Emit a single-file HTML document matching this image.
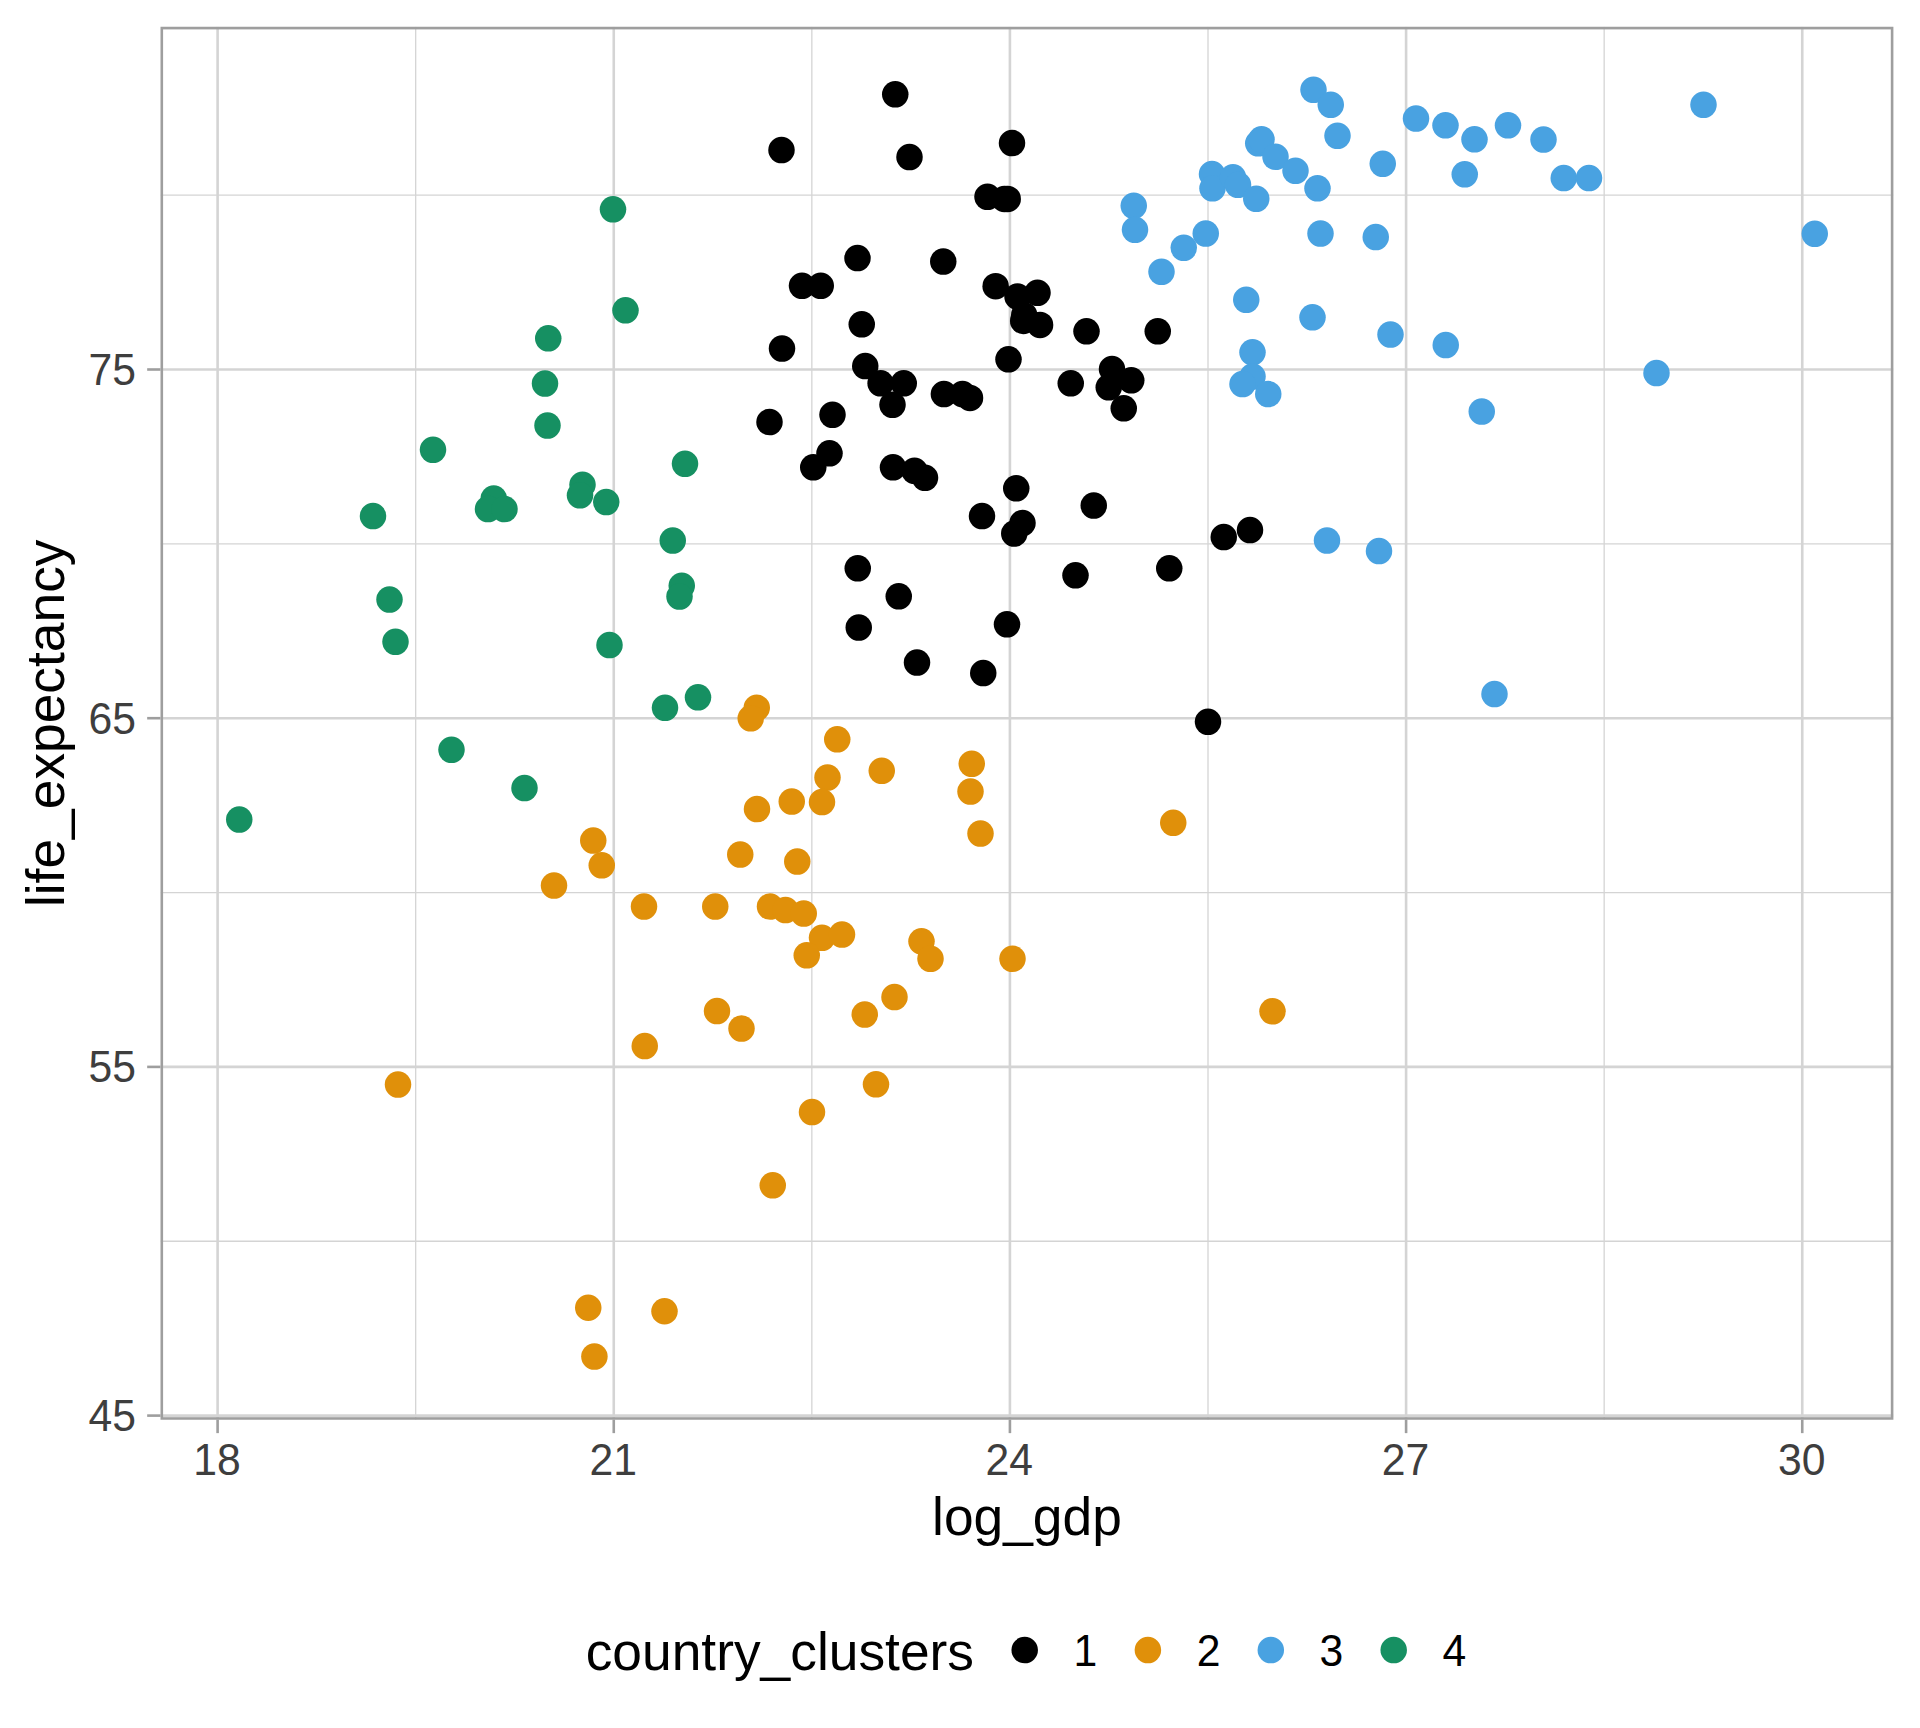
<!DOCTYPE html>
<html lang="en"><head><meta charset="utf-8"><title>life_expectancy vs log_gdp by country_clusters</title>
<style>html,body{margin:0;padding:0;background:#fff}body{width:1920px;height:1728px;overflow:hidden}svg{display:block}text{font-family:"Liberation Sans",Arial,Helvetica,sans-serif}.ax{font-size:42.67px;fill:#3E3E3E}.ti{font-size:53.33px;fill:#000}.lg{font-size:42.67px;fill:#000}</style></head><body>
<svg width="1920" height="1728" viewBox="0 0 1920 1728">
<rect width="1920" height="1728" fill="#fff"/>
<defs><clipPath id="pc"><rect x="160.5" y="26.8" width="1732.9" height="1393.0"/></clipPath></defs>
<g clip-path="url(#pc)">
<g stroke="#D4D4D4" stroke-width="1.3" fill="none">
<line x1="415.68" x2="415.68" y1="26.8" y2="1419.8"/>
<line x1="811.84" x2="811.84" y1="26.8" y2="1419.8"/>
<line x1="1208.00" x2="1208.00" y1="26.8" y2="1419.8"/>
<line x1="1604.17" x2="1604.17" y1="26.8" y2="1419.8"/>
<line x1="160.5" x2="1893.4" y1="1241.25" y2="1241.25"/>
<line x1="160.5" x2="1893.4" y1="892.55" y2="892.55"/>
<line x1="160.5" x2="1893.4" y1="543.85" y2="543.85"/>
<line x1="160.5" x2="1893.4" y1="195.15" y2="195.15"/>
</g>
<g stroke="#D4D4D4" stroke-width="2.6" fill="none">
<line x1="217.60" x2="217.60" y1="26.8" y2="1419.8"/>
<line x1="613.76" x2="613.76" y1="26.8" y2="1419.8"/>
<line x1="1009.92" x2="1009.92" y1="26.8" y2="1419.8"/>
<line x1="1406.09" x2="1406.09" y1="26.8" y2="1419.8"/>
<line x1="1802.25" x2="1802.25" y1="26.8" y2="1419.8"/>
<line x1="160.5" x2="1893.4" y1="1415.60" y2="1415.60"/>
<line x1="160.5" x2="1893.4" y1="1066.90" y2="1066.90"/>
<line x1="160.5" x2="1893.4" y1="718.20" y2="718.20"/>
<line x1="160.5" x2="1893.4" y1="369.50" y2="369.50"/>
</g>
<g>
<circle cx="613.00" cy="209.35" r="13.25" fill="#169062"/>
<circle cx="625.50" cy="310.35" r="13.25" fill="#169062"/>
<circle cx="548.25" cy="338.35" r="13.25" fill="#169062"/>
<circle cx="545.00" cy="383.60" r="13.25" fill="#169062"/>
<circle cx="547.50" cy="425.60" r="13.25" fill="#169062"/>
<circle cx="433.00" cy="449.85" r="13.25" fill="#169062"/>
<circle cx="895.25" cy="94.35" r="13.25" fill="#000000"/>
<circle cx="781.50" cy="150.10" r="13.25" fill="#000000"/>
<circle cx="909.50" cy="157.10" r="13.25" fill="#000000"/>
<circle cx="1012.00" cy="143.10" r="13.25" fill="#000000"/>
<circle cx="987.50" cy="196.85" r="13.25" fill="#000000"/>
<circle cx="1004.40" cy="198.95" r="13.25" fill="#000000"/>
<circle cx="1007.70" cy="198.95" r="13.25" fill="#000000"/>
<circle cx="857.50" cy="258.10" r="13.25" fill="#000000"/>
<circle cx="943.25" cy="261.60" r="13.25" fill="#000000"/>
<circle cx="802.00" cy="285.85" r="13.25" fill="#000000"/>
<circle cx="820.75" cy="285.85" r="13.25" fill="#000000"/>
<circle cx="995.65" cy="286.15" r="13.25" fill="#000000"/>
<circle cx="1017.50" cy="296.60" r="13.25" fill="#000000"/>
<circle cx="1037.50" cy="292.85" r="13.25" fill="#000000"/>
<circle cx="1024.20" cy="315.15" r="13.25" fill="#000000"/>
<circle cx="1023.20" cy="320.95" r="13.25" fill="#000000"/>
<circle cx="1040.05" cy="324.95" r="13.25" fill="#000000"/>
<circle cx="861.75" cy="324.35" r="13.25" fill="#000000"/>
<circle cx="1086.50" cy="331.35" r="13.25" fill="#000000"/>
<circle cx="782.00" cy="348.60" r="13.25" fill="#000000"/>
<circle cx="1008.50" cy="359.35" r="13.25" fill="#000000"/>
<circle cx="865.25" cy="366.10" r="13.25" fill="#000000"/>
<circle cx="880.60" cy="383.35" r="13.25" fill="#000000"/>
<circle cx="903.75" cy="383.35" r="13.25" fill="#000000"/>
<circle cx="892.50" cy="404.85" r="13.25" fill="#000000"/>
<circle cx="943.90" cy="394.10" r="13.25" fill="#000000"/>
<circle cx="962.50" cy="394.10" r="13.25" fill="#000000"/>
<circle cx="970.00" cy="397.95" r="13.25" fill="#000000"/>
<circle cx="1070.75" cy="383.35" r="13.25" fill="#000000"/>
<circle cx="1112.00" cy="369.10" r="13.25" fill="#000000"/>
<circle cx="1108.75" cy="387.35" r="13.25" fill="#000000"/>
<circle cx="832.50" cy="414.85" r="13.25" fill="#000000"/>
<circle cx="769.50" cy="422.10" r="13.25" fill="#000000"/>
<circle cx="1157.75" cy="331.35" r="13.25" fill="#000000"/>
<circle cx="1131.25" cy="380.35" r="13.25" fill="#000000"/>
<circle cx="1123.75" cy="408.35" r="13.25" fill="#000000"/>
<circle cx="1313.50" cy="89.85" r="13.25" fill="#49A2E1"/>
<circle cx="1330.75" cy="104.85" r="13.25" fill="#49A2E1"/>
<circle cx="1337.50" cy="135.85" r="13.25" fill="#49A2E1"/>
<circle cx="1258.25" cy="143.35" r="13.25" fill="#49A2E1"/>
<circle cx="1261.50" cy="139.35" r="13.25" fill="#49A2E1"/>
<circle cx="1275.50" cy="156.85" r="13.25" fill="#49A2E1"/>
<circle cx="1295.50" cy="170.85" r="13.25" fill="#49A2E1"/>
<circle cx="1317.50" cy="188.35" r="13.25" fill="#49A2E1"/>
<circle cx="1382.75" cy="163.85" r="13.25" fill="#49A2E1"/>
<circle cx="1416.00" cy="118.60" r="13.25" fill="#49A2E1"/>
<circle cx="1445.50" cy="125.35" r="13.25" fill="#49A2E1"/>
<circle cx="1474.50" cy="139.35" r="13.25" fill="#49A2E1"/>
<circle cx="1508.00" cy="125.35" r="13.25" fill="#49A2E1"/>
<circle cx="1543.50" cy="139.60" r="13.25" fill="#49A2E1"/>
<circle cx="1464.75" cy="174.35" r="13.25" fill="#49A2E1"/>
<circle cx="1563.75" cy="178.10" r="13.25" fill="#49A2E1"/>
<circle cx="1589.00" cy="178.10" r="13.25" fill="#49A2E1"/>
<circle cx="1212.00" cy="174.10" r="13.25" fill="#49A2E1"/>
<circle cx="1212.50" cy="188.35" r="13.25" fill="#49A2E1"/>
<circle cx="1233.00" cy="177.35" r="13.25" fill="#49A2E1"/>
<circle cx="1238.00" cy="184.85" r="13.25" fill="#49A2E1"/>
<circle cx="1256.25" cy="198.85" r="13.25" fill="#49A2E1"/>
<circle cx="1133.75" cy="205.85" r="13.25" fill="#49A2E1"/>
<circle cx="1135.00" cy="229.85" r="13.25" fill="#49A2E1"/>
<circle cx="1205.75" cy="233.60" r="13.25" fill="#49A2E1"/>
<circle cx="1183.75" cy="247.85" r="13.25" fill="#49A2E1"/>
<circle cx="1161.50" cy="271.85" r="13.25" fill="#49A2E1"/>
<circle cx="1320.50" cy="233.60" r="13.25" fill="#49A2E1"/>
<circle cx="1375.75" cy="237.10" r="13.25" fill="#49A2E1"/>
<circle cx="1246.25" cy="299.85" r="13.25" fill="#49A2E1"/>
<circle cx="1312.50" cy="317.35" r="13.25" fill="#49A2E1"/>
<circle cx="1390.50" cy="334.60" r="13.25" fill="#49A2E1"/>
<circle cx="1445.75" cy="345.10" r="13.25" fill="#49A2E1"/>
<circle cx="1252.50" cy="352.35" r="13.25" fill="#49A2E1"/>
<circle cx="1252.50" cy="376.60" r="13.25" fill="#49A2E1"/>
<circle cx="1242.50" cy="384.10" r="13.25" fill="#49A2E1"/>
<circle cx="1268.25" cy="394.10" r="13.25" fill="#49A2E1"/>
<circle cx="1481.75" cy="411.60" r="13.25" fill="#49A2E1"/>
<circle cx="1703.50" cy="104.85" r="13.25" fill="#49A2E1"/>
<circle cx="1814.75" cy="233.85" r="13.25" fill="#49A2E1"/>
<circle cx="1656.50" cy="373.10" r="13.25" fill="#49A2E1"/>
<circle cx="1327.00" cy="540.60" r="13.25" fill="#49A2E1"/>
<circle cx="1379.00" cy="551.10" r="13.25" fill="#49A2E1"/>
<circle cx="1494.50" cy="694.10" r="13.25" fill="#49A2E1"/>
<circle cx="373.00" cy="516.10" r="13.25" fill="#169062"/>
<circle cx="493.75" cy="498.60" r="13.25" fill="#169062"/>
<circle cx="488.00" cy="509.10" r="13.25" fill="#169062"/>
<circle cx="504.50" cy="509.10" r="13.25" fill="#169062"/>
<circle cx="582.50" cy="484.85" r="13.25" fill="#169062"/>
<circle cx="580.00" cy="495.35" r="13.25" fill="#169062"/>
<circle cx="606.25" cy="502.10" r="13.25" fill="#169062"/>
<circle cx="389.50" cy="599.60" r="13.25" fill="#169062"/>
<circle cx="395.50" cy="641.85" r="13.25" fill="#169062"/>
<circle cx="609.50" cy="645.10" r="13.25" fill="#169062"/>
<circle cx="451.50" cy="749.85" r="13.25" fill="#169062"/>
<circle cx="524.50" cy="788.10" r="13.25" fill="#169062"/>
<circle cx="239.25" cy="819.60" r="13.25" fill="#169062"/>
<circle cx="685.00" cy="463.85" r="13.25" fill="#169062"/>
<circle cx="672.75" cy="540.60" r="13.25" fill="#169062"/>
<circle cx="681.75" cy="585.85" r="13.25" fill="#169062"/>
<circle cx="679.50" cy="596.60" r="13.25" fill="#169062"/>
<circle cx="698.00" cy="697.35" r="13.25" fill="#169062"/>
<circle cx="665.00" cy="707.85" r="13.25" fill="#169062"/>
<circle cx="829.50" cy="453.35" r="13.25" fill="#000000"/>
<circle cx="813.25" cy="467.35" r="13.25" fill="#000000"/>
<circle cx="893.00" cy="467.35" r="13.25" fill="#000000"/>
<circle cx="914.50" cy="470.85" r="13.25" fill="#000000"/>
<circle cx="925.00" cy="477.85" r="13.25" fill="#000000"/>
<circle cx="1016.25" cy="488.35" r="13.25" fill="#000000"/>
<circle cx="982.00" cy="516.10" r="13.25" fill="#000000"/>
<circle cx="1022.50" cy="523.10" r="13.25" fill="#000000"/>
<circle cx="1014.25" cy="533.60" r="13.25" fill="#000000"/>
<circle cx="1093.75" cy="505.60" r="13.25" fill="#000000"/>
<circle cx="857.75" cy="568.35" r="13.25" fill="#000000"/>
<circle cx="898.75" cy="596.35" r="13.25" fill="#000000"/>
<circle cx="1075.50" cy="575.35" r="13.25" fill="#000000"/>
<circle cx="858.75" cy="627.60" r="13.25" fill="#000000"/>
<circle cx="1007.00" cy="624.35" r="13.25" fill="#000000"/>
<circle cx="917.00" cy="662.60" r="13.25" fill="#000000"/>
<circle cx="983.25" cy="673.10" r="13.25" fill="#000000"/>
<circle cx="1169.25" cy="568.35" r="13.25" fill="#000000"/>
<circle cx="1223.75" cy="537.10" r="13.25" fill="#000000"/>
<circle cx="1250.00" cy="530.10" r="13.25" fill="#000000"/>
<circle cx="1208.00" cy="721.85" r="13.25" fill="#000000"/>
<circle cx="593.25" cy="840.60" r="13.25" fill="#E0900A"/>
<circle cx="601.75" cy="865.35" r="13.25" fill="#E0900A"/>
<circle cx="756.75" cy="707.85" r="13.25" fill="#E0900A"/>
<circle cx="750.75" cy="718.35" r="13.25" fill="#E0900A"/>
<circle cx="837.25" cy="739.35" r="13.25" fill="#E0900A"/>
<circle cx="827.50" cy="777.60" r="13.25" fill="#E0900A"/>
<circle cx="881.75" cy="770.85" r="13.25" fill="#E0900A"/>
<circle cx="971.75" cy="763.85" r="13.25" fill="#E0900A"/>
<circle cx="970.50" cy="791.60" r="13.25" fill="#E0900A"/>
<circle cx="822.00" cy="802.10" r="13.25" fill="#E0900A"/>
<circle cx="791.75" cy="801.60" r="13.25" fill="#E0900A"/>
<circle cx="757.00" cy="809.10" r="13.25" fill="#E0900A"/>
<circle cx="980.50" cy="833.60" r="13.25" fill="#E0900A"/>
<circle cx="740.25" cy="854.60" r="13.25" fill="#E0900A"/>
<circle cx="797.25" cy="861.60" r="13.25" fill="#E0900A"/>
<circle cx="1173.25" cy="822.85" r="13.25" fill="#E0900A"/>
<circle cx="554.00" cy="885.60" r="13.25" fill="#E0900A"/>
<circle cx="398.00" cy="1084.60" r="13.25" fill="#E0900A"/>
<circle cx="644.00" cy="906.60" r="13.25" fill="#E0900A"/>
<circle cx="715.25" cy="906.60" r="13.25" fill="#E0900A"/>
<circle cx="770.00" cy="906.60" r="13.25" fill="#E0900A"/>
<circle cx="785.50" cy="910.10" r="13.25" fill="#E0900A"/>
<circle cx="803.75" cy="913.60" r="13.25" fill="#E0900A"/>
<circle cx="822.00" cy="937.85" r="13.25" fill="#E0900A"/>
<circle cx="842.00" cy="934.60" r="13.25" fill="#E0900A"/>
<circle cx="806.75" cy="955.35" r="13.25" fill="#E0900A"/>
<circle cx="921.50" cy="941.35" r="13.25" fill="#E0900A"/>
<circle cx="930.50" cy="958.85" r="13.25" fill="#E0900A"/>
<circle cx="1012.50" cy="958.85" r="13.25" fill="#E0900A"/>
<circle cx="894.50" cy="997.10" r="13.25" fill="#E0900A"/>
<circle cx="864.75" cy="1014.60" r="13.25" fill="#E0900A"/>
<circle cx="717.00" cy="1011.10" r="13.25" fill="#E0900A"/>
<circle cx="741.50" cy="1028.60" r="13.25" fill="#E0900A"/>
<circle cx="644.75" cy="1046.10" r="13.25" fill="#E0900A"/>
<circle cx="876.00" cy="1084.35" r="13.25" fill="#E0900A"/>
<circle cx="812.00" cy="1112.10" r="13.25" fill="#E0900A"/>
<circle cx="772.75" cy="1185.35" r="13.25" fill="#E0900A"/>
<circle cx="1272.50" cy="1011.35" r="13.25" fill="#E0900A"/>
<circle cx="588.25" cy="1307.75" r="13.25" fill="#E0900A"/>
<circle cx="664.50" cy="1311.25" r="13.25" fill="#E0900A"/>
<circle cx="594.40" cy="1356.60" r="13.25" fill="#E0900A"/>
</g>
<rect x="160.5" y="26.8" width="1732.9" height="1393.0" fill="none" stroke="#9E9E9E" stroke-width="5.2"/>
</g>
<g stroke="#9E9E9E" stroke-width="2.6">
<line x1="217.60" x2="217.60" y1="1419.8" y2="1433.1299999999999"/>
<line x1="613.76" x2="613.76" y1="1419.8" y2="1433.1299999999999"/>
<line x1="1009.92" x2="1009.92" y1="1419.8" y2="1433.1299999999999"/>
<line x1="1406.09" x2="1406.09" y1="1419.8" y2="1433.1299999999999"/>
<line x1="1802.25" x2="1802.25" y1="1419.8" y2="1433.1299999999999"/>
<line x1="147.17" x2="160.5" y1="1415.60" y2="1415.60"/>
<line x1="147.17" x2="160.5" y1="1066.90" y2="1066.90"/>
<line x1="147.17" x2="160.5" y1="718.20" y2="718.20"/>
<line x1="147.17" x2="160.5" y1="369.50" y2="369.50"/>
</g>
<text class="ax" transform="translate(217.00 1475.3) scale(1 1.04)" text-anchor="middle">18</text>
<text class="ax" transform="translate(613.16 1475.3) scale(1 1.04)" text-anchor="middle">21</text>
<text class="ax" transform="translate(1009.32 1475.3) scale(1 1.04)" text-anchor="middle">24</text>
<text class="ax" transform="translate(1405.49 1475.3) scale(1 1.04)" text-anchor="middle">27</text>
<text class="ax" transform="translate(1801.65 1475.3) scale(1 1.04)" text-anchor="middle">30</text>
<text class="ax" transform="translate(136 1430.90) scale(1 1.04)" text-anchor="end">45</text>
<text class="ax" transform="translate(136 1082.20) scale(1 1.04)" text-anchor="end">55</text>
<text class="ax" transform="translate(136 733.50) scale(1 1.04)" text-anchor="end">65</text>
<text class="ax" transform="translate(136 384.80) scale(1 1.04)" text-anchor="end">75</text>
<text class="ti" x="1026.95" y="1534.5" text-anchor="middle">log_gdp</text>
<text class="ti" transform="translate(63.9 723.30) rotate(-90)" text-anchor="middle">life_expectancy</text>
<text class="ti" x="585.7" y="1670.2">country_clusters</text>
<circle cx="1024.7" cy="1650.1" r="13.25" fill="#000000"/>
<text class="lg" transform="translate(1073.5 1666.1) scale(1 1.04)">1</text>
<circle cx="1147.9" cy="1650.1" r="13.25" fill="#E0900A"/>
<text class="lg" transform="translate(1196.7 1666.1) scale(1 1.04)">2</text>
<circle cx="1270.8" cy="1650.1" r="13.25" fill="#49A2E1"/>
<text class="lg" transform="translate(1319.6 1666.1) scale(1 1.04)">3</text>
<circle cx="1393.7" cy="1650.1" r="13.25" fill="#169062"/>
<text class="lg" transform="translate(1442.5 1666.1) scale(1 1.04)">4</text>
</svg></body></html>
